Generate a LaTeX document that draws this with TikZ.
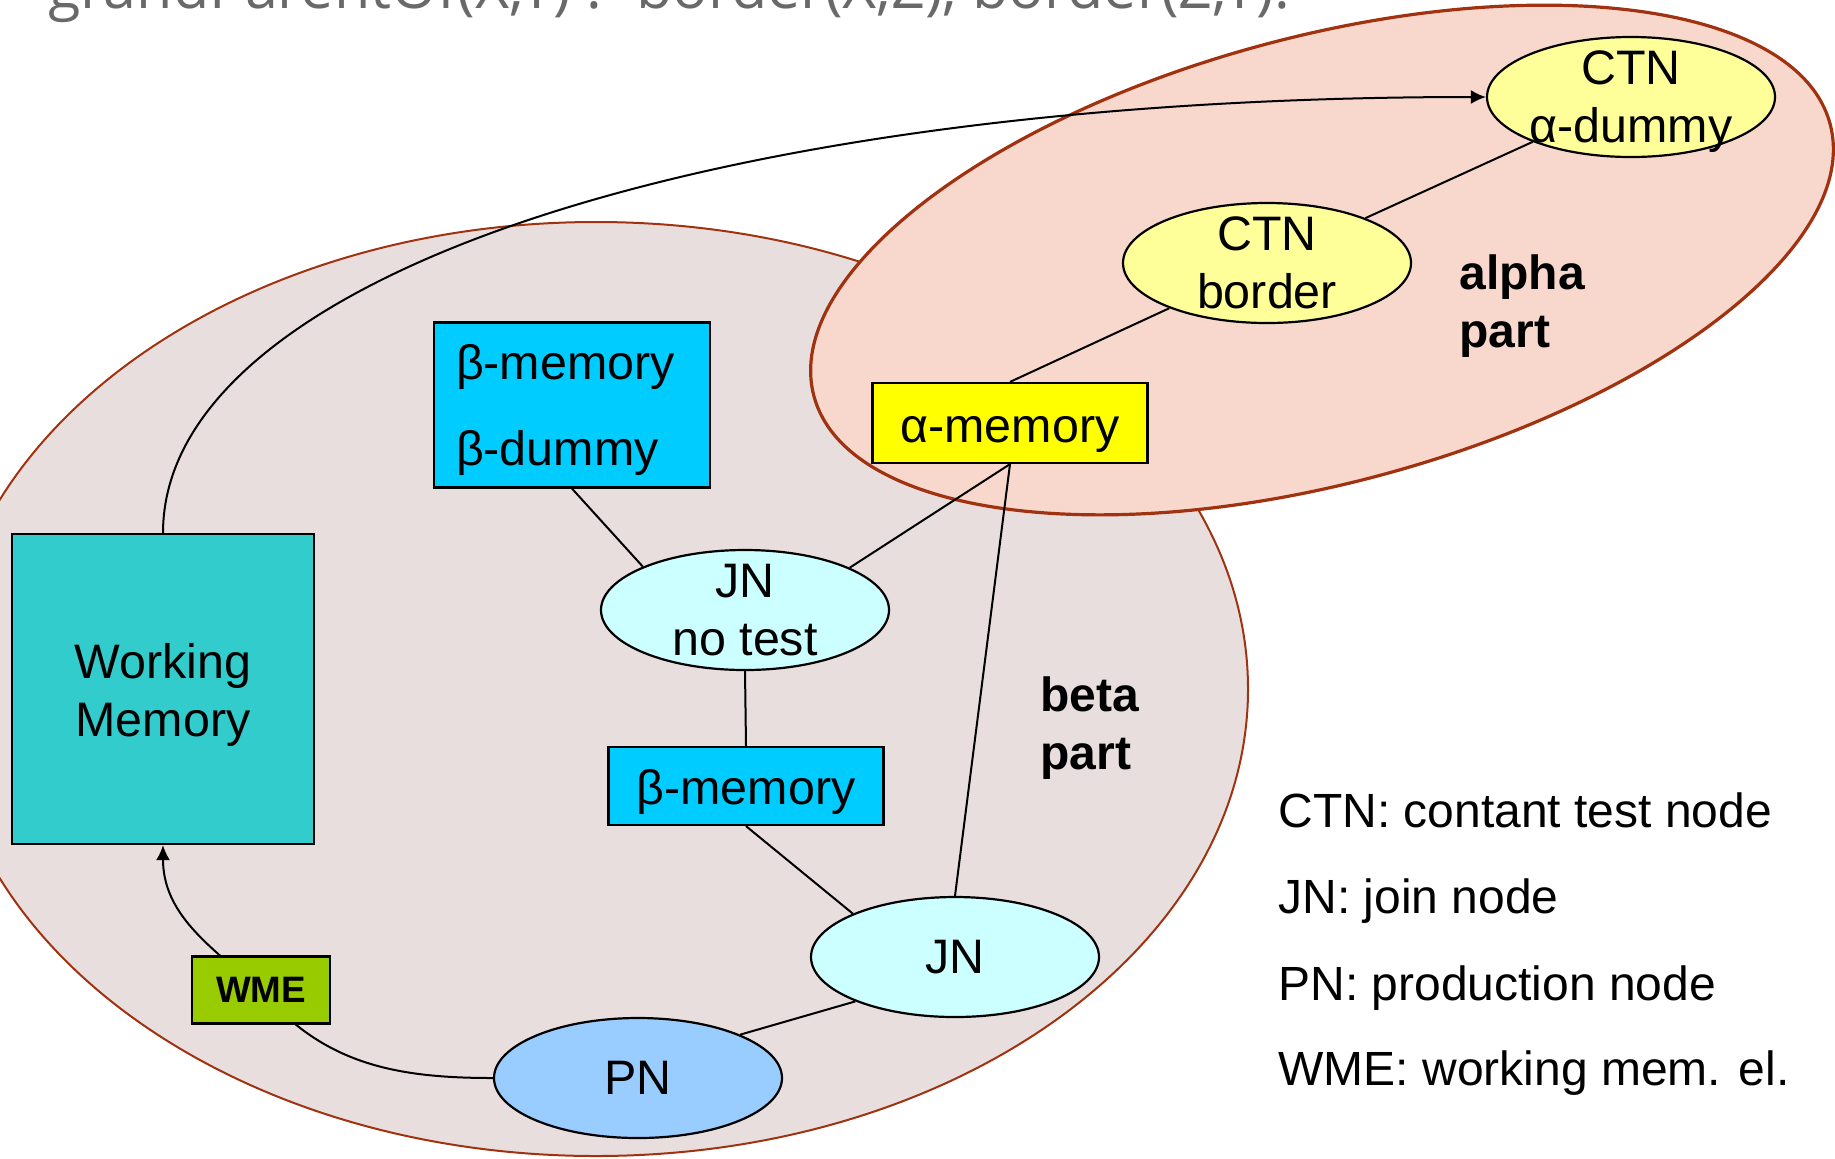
\documentclass[tikz,border=0pt]{standalone}
\usepackage{fontspec}
\setmainfont{Liberation Sans}
\newfontfamily\headfont{Open Sans}
\usetikzlibrary{shapes.geometric,arrows.meta}
\definecolor{betafill}{RGB}{232,222,222}
\definecolor{alphafill}{RGB}{248,216,204}
\definecolor{rim}{RGB}{160,50,16}
\definecolor{ctnfill}{RGB}{255,255,153}
\definecolor{jnfill}{RGB}{204,255,255}
\definecolor{pnfill}{RGB}{153,204,255}
\definecolor{bmfill}{RGB}{0,204,255}
\definecolor{amfill}{RGB}{255,255,0}
\definecolor{wmfill}{RGB}{51,204,204}
\definecolor{wmefill}{RGB}{153,204,0}
\definecolor{headgray}{RGB}{105,105,105}
\pgfdeclarelayer{back}
\pgfsetlayers{back,main}
\tikzset{
  every node/.style={font=\fontsize{24.2}{29}\selectfont, inner sep=0pt},
  oval/.style={ellipse, draw, line width=1.1pt, minimum width=144pt, minimum height=60pt,
    align=center, inner xsep=0pt, inner ysep=-7pt},
  box/.style={rectangle, draw, line width=1.1pt, align=center},
  link/.style={line width=1pt},
  arr/.style={link, -{Latex[length=7.5pt,width=7pt]}},
  partlabel/.style={font=\bfseries\fontsize{24}{28.6}\selectfont, align=left, anchor=west},
  legendline/.style={anchor=base west, font=\fontsize{24}{29}\selectfont}
}
\begin{document}
\begin{tikzpicture}[x=0.5pt,y=-0.5pt]
\useasboundingbox (0,0) rectangle (1835,1158);

% rule heading, mostly above the visible area
\node[anchor=base west, font=\headfont\fontsize{29.6}{34}\selectfont, text=headgray] (rule) at (48,8)
  {grandParentOf(X,Y) :- border(X,Z), border(Z,Y).};

% alpha network
\node[oval, fill=ctnfill] (ctnA) at (1631,97) {\rule{0pt}{21.7pt}CTN\\α-dummy};
\node[oval, fill=ctnfill] (ctnB) at (1267,263) {CTN\\border};
\node[box, fill=amfill, minimum width=137.5pt, minimum height=40pt, text height=19.5pt, text depth=0pt] (am) at (1010,423) {α-memory};

% beta network
\node[box, fill=bmfill, minimum width=138pt, minimum height=82.5pt, align=left, text width=116pt] (bmd) at (572,405) {\rule{0pt}{22.9pt}β-memory\\[14pt]β-dummy};
\node[oval, fill=jnfill] (jn1) at (745,610) {JN\\no test};
\node[box, fill=bmfill, minimum width=137.5pt, minimum height=39pt, text height=18.5pt, text depth=0pt] (bm2) at (746,786) {β-memory};
\node[oval, fill=jnfill] (jn2) at (955,957) {JN};
\node[oval, fill=pnfill] (pn) at (638,1078) {PN};

% working memory and its element
\node[box, fill=wmfill, minimum width=151pt, minimum height=155pt] (wm) at (163,689) {\rule{0pt}{23.7pt}Working\\Memory};
\node[box, fill=wmefill, minimum width=69pt, minimum height=33.5pt, font=\bfseries\fontsize{18.4}{22}\selectfont] (wme) at (261,990) {WME};

% region captions
\node[partlabel] (alphacap) at (1459,306) {alpha\\part};
\node[partlabel] (betacap) at (1040,728) {beta\\part};

% legend
\node[legendline] (lg1) at (1278,827) {CTN: contant test node};
\node[legendline] (lg2) at (1278,913) {JN: join node};
\node[legendline] (lg3) at (1278,1000) {PN: production node};
\node[legendline] (lg4) at (1278,1085) {WME: working mem. el.};

\begin{pgfonlayer}{back}
  % the two parts of the network
  \draw[fill=betafill, draw=rim, line width=1pt] (596,689) ellipse [x radius=326pt, y radius=233.5pt];
  \draw[fill=alphafill, draw=rim, line width=1.6pt, rotate around={15:(1322,260)}] (1322,260) ellipse [x radius=263pt, y radius=111.5pt];

  % connections
  \draw[arr] (wm.north) .. controls (163,280) and (700,97) .. (ctnA.west);
  \draw[link] (ctnA) -- (ctnB);
  \draw[link] (ctnB) -- (am.north);
  \draw[link] (am.south) -- (jn1.22);
  \draw[link] (am.south) -- (jn2.north);
  \draw[link] (bmd.south) -- (jn1.157);
  \draw[link] (jn1.south) -- (bm2.north);
  \draw[link] (bm2.south) -- (jn2.157);
  \draw[link] (jn2.204) -- (pn.23);
  \draw[link] (pn.west) to[out=180, in=-50] (wme.center);
  \draw[arr] (wme.center) to[out=140, in=-90] (wm.south);
\end{pgfonlayer}
\end{tikzpicture}
\end{document}
